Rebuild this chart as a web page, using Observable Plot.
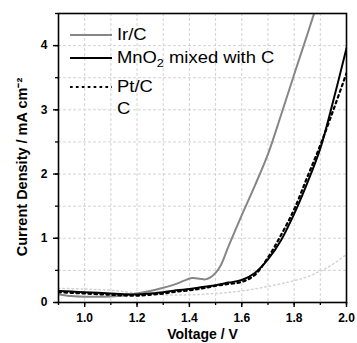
<!DOCTYPE html>
<html><head><meta charset="utf-8">
<script src="https://cdn.jsdelivr.net/npm/d3@7"></script>
<script src="https://cdn.jsdelivr.net/npm/@observablehq/plot@0.6"></script>
<style>
body{margin:0;background:#fff;}
#wrap{position:relative;width:357px;height:343px;font-family:"Liberation Sans",Arial,sans-serif;}
.leg{position:absolute;left:70px;height:20px;display:flex;align-items:center;}
.leg svg{flex:none;display:block;}
.leg span{font-size:16px;margin-left:5px;transform:scaleX(1.15);transform-origin:left center;white-space:nowrap;display:inline-block;line-height:20px;color:#000;}
.leg sub{font-size:11px;vertical-align:-4px;line-height:0;}
</style></head>
<body>
<div id="wrap"></div>
<script>
// ---- data ----
const irV  = [0.90,0.95,1.00,1.05,1.10,1.15,1.20,1.25,1.30,1.35,1.38,1.41,1.44,1.46,1.48,1.50,1.52,1.55,1.60,1.65,1.70,1.75,1.80,1.85,1.90];
const irJ  = [0.13,0.10,0.09,0.09,0.095,0.11,0.14,0.18,0.23,0.29,0.34,0.38,0.37,0.36,0.39,0.46,0.58,0.88,1.36,1.82,2.31,2.92,3.55,4.17,4.80];
const mnV  = [0.90,0.95,1.00,1.05,1.10,1.15,1.20,1.25,1.30,1.35,1.40,1.45,1.50,1.55,1.60,1.65,1.70,1.75,1.80,1.85,1.90,1.95,2.00];
const mnJ  = [0.18,0.17,0.16,0.15,0.14,0.13,0.125,0.14,0.16,0.19,0.21,0.24,0.27,0.31,0.35,0.46,0.67,0.97,1.38,1.86,2.40,3.15,3.96];
const ptV  = [0.90,0.95,1.00,1.05,1.10,1.15,1.20,1.25,1.30,1.35,1.40,1.45,1.50,1.55,1.60,1.65,1.70,1.75,1.80,1.85,1.90,1.95,2.00];
const ptJ  = [0.16,0.15,0.14,0.13,0.12,0.11,0.105,0.12,0.14,0.17,0.19,0.22,0.26,0.29,0.32,0.43,0.70,1.05,1.45,1.95,2.45,3.00,3.57];
const cV   = [0.90,1.00,1.10,1.20,1.30,1.40,1.50,1.60,1.70,1.80,1.85,1.90,1.95,2.00];
const cJ   = [0.22,0.21,0.19,0.15,0.12,0.12,0.14,0.18,0.25,0.34,0.40,0.49,0.60,0.75];
const xMajor = [1.0,1.2,1.4,1.6,1.8,2.0];
const xMinor = [0.9,1.0,1.1,1.2,1.3,1.4,1.5,1.6,1.7,1.8,1.9,2.0];
const yMajor = [0,1,2,3,4];
const yMinor = [0,0.5,1,1.5,2,2.5,3,3.5,4,4.5];
const xTitle = "Voltage / V";
const yTitle = "Current Density / mA cm\u207B\u00B2";

const toRows = (V, J) => V.map((v, i) => ({V: v, J: J[i]}));
const ir = toRows(irV, irJ), mn = toRows(mnV, mnJ), pt = toRows(ptV, ptJ), cc = toRows(cV, cJ);

const chart = Plot.plot({
  width: 357, height: 343,
  marginLeft: 58, marginRight: 11, marginTop: 13, marginBottom: 41,
  x: {domain: [0.9, 2.0]},
  y: {domain: [0, 4.5]},
  style: {fontFamily: "'Liberation Sans', Arial, sans-serif", background: "white", color: "black", overflow: "visible"},
  marks: [
    Plot.gridX(xMinor, {stroke: "#c8c8c8", strokeOpacity: 1, strokeWidth: 0.8, strokeDasharray: "3,2"}),
    Plot.gridY(yMinor, {stroke: "#c8c8c8", strokeOpacity: 1, strokeWidth: 0.8, strokeDasharray: "3,2"}),
    Plot.line(cc, {x: "V", y: "J", stroke: "#d2d2d2", strokeWidth: 1.5, strokeDasharray: "1.5,3", curve: "catmull-rom", clip: true}),
    Plot.line(ir, {x: "V", y: "J", stroke: "#868686", strokeWidth: 2, curve: "catmull-rom", clip: true}),
    Plot.line(mn, {x: "V", y: "J", stroke: "#000", strokeWidth: 2, curve: "catmull-rom", clip: true}),
    Plot.line(pt, {x: "V", y: "J", stroke: "#000", strokeWidth: 2.2, strokeDasharray: "2.5,3.5", curve: "catmull-rom", clip: true}),
    Plot.frame({stroke: "black", strokeWidth: 1.6}),
    Plot.axisX(xMinor, {anchor: "bottom", tickSize: 3, tickFormat: () => "", strokeWidth: 1.3, label: null}),
    Plot.axisX(xMajor, {anchor: "bottom", tickSize: 5, tickPadding: 6, tickFormat: d3.format(".1f"), strokeWidth: 1.4, fontSize: 12, fontWeight: "bold", label: null}),
    Plot.axisY(yMinor, {anchor: "left", tickSize: 3, tickFormat: () => "", strokeWidth: 1.3, label: null}),
    Plot.axisY(yMajor, {anchor: "left", tickSize: 5, tickPadding: 6, tickFormat: d3.format("d"), strokeWidth: 1.4, fontSize: 12, fontWeight: "bold", label: null}),
    Plot.text([xTitle], {frameAnchor: "bottom", text: d => d, textAnchor: "middle", lineAnchor: "middle", dy: 32, fontSize: 14, fontWeight: "bold"}),
    Plot.text([yTitle], {frameAnchor: "left", text: d => d, textAnchor: "middle", lineAnchor: "middle", rotate: -90, dx: -36, dy: 9, fontSize: 14.5, fontWeight: "bold"})
  ]
});
const wrap = document.getElementById("wrap");
wrap.appendChild(chart);

// legend inside the plot (upper left)
const legendItems = [
  {html: "Ir/C", stroke: "#868686", dash: null, w: 2, top: 25},
  {html: "MnO<sub>2</sub> mixed with C", stroke: "#000", dash: null, w: 2, top: 48},
  {html: "Pt/C", stroke: "#000", dash: "2.7,3.2", w: 2.2, top: 76.5},
  {html: "C", stroke: "#ececec", dash: "1.5,3", w: 1.5, top: 98.5}
];
legendItems.forEach(it => {
  const row = document.createElement("div");
  row.className = "leg";
  row.style.top = it.top + "px";
  row.innerHTML = `<svg width="42" height="6"><line x1="0" y1="3" x2="42" y2="3" stroke="${it.stroke}" stroke-width="${it.w}" ${it.dash ? `stroke-dasharray="${it.dash}"` : ""}/></svg><span>${it.html}</span>`;
  wrap.appendChild(row);
});
</script>
</body></html>
